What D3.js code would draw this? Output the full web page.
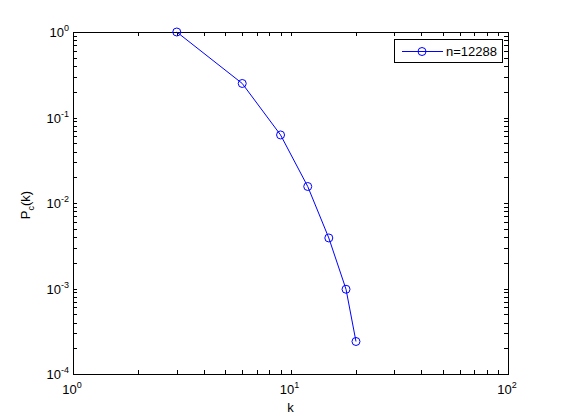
<!DOCTYPE html>
<html>
<head>
<meta charset="utf-8">
<script src="https://cdn.jsdelivr.net/npm/d3@7"></script>
<style>
  body { margin: 0; background: #fff; }
  svg { display: block; font-family: "Liberation Sans", Arial, sans-serif; }
</style>
</head>
<body>
<div id="chart"></div>
<script>
// data
var kValues = [3, 6, 9, 12, 15, 18, 20];
var pcValues = [1, 0.25, 0.0625, 0.0156, 0.0039, 0.00098, 0.00024];
var seriesName = "n=12288";
var xDecades = [0, 1, 2];
var yDecades = [0, -1, -2, -3, -4];

var width = 561,
    height = 420;
var plotLeft = 73, plotRight = 508, plotTop = 32, plotBottom = 374;

var svg = d3.select("#chart").append("svg")
    .attr("width", width)
    .attr("height", height);

var x = d3.scaleLog().domain([1, 100]).range([plotLeft, plotRight]);
var y = d3.scaleLog().domain([1e-4, 1]).range([plotBottom, plotTop]);

// minor + major tick positions
var xTicks = [];
for (var d = 0; d < 2; d++) for (var m = 1; m < 10; m++) xTicks.push(m * Math.pow(10, d));
xTicks.push(100);
var yTicks = [];
for (var d = -4; d < 0; d++) for (var m = 1; m < 10; m++) yTicks.push(m * Math.pow(10, d));
yTicks.push(1);

var tl = 4;
var axes = svg.append("g").attr("stroke", "#000").attr("stroke-width", 1);

function px(v) { return Math.round(v) + 0.5; }

axes.selectAll(".xb").data(xTicks).enter().append("line")
    .attr("x1", function(d) { return px(x(d)); })
    .attr("x2", function(d) { return px(x(d)); })
    .attr("y1", plotBottom).attr("y2", plotBottom - tl);
axes.selectAll(".xt").data(xTicks).enter().append("line")
    .attr("x1", function(d) { return px(x(d)); })
    .attr("x2", function(d) { return px(x(d)); })
    .attr("y1", plotTop).attr("y2", plotTop + tl);
axes.selectAll(".yl").data(yTicks).enter().append("line")
    .attr("y1", function(d) { return px(y(d)); })
    .attr("y2", function(d) { return px(y(d)); })
    .attr("x1", plotLeft).attr("x2", plotLeft + tl);
axes.selectAll(".yr").data(yTicks).enter().append("line")
    .attr("y1", function(d) { return px(y(d)); })
    .attr("y2", function(d) { return px(y(d)); })
    .attr("x1", plotRight).attr("x2", plotRight - tl);

axes.append("rect")
    .attr("x", plotLeft + 0.5).attr("y", plotTop + 0.5)
    .attr("width", plotRight - plotLeft).attr("height", plotBottom - plotTop)
    .attr("fill", "none");

// tick labels: 10 with superscript exponent
svg.selectAll(".xlab").data(xDecades).enter().append("text")
    .attr("x", function(d) { return x(Math.pow(10, d)) - 1; })
    .attr("y", 394)
    .attr("text-anchor", "middle")
    .attr("font-size", 13)
    .each(function(d) {
        var t = d3.select(this);
        t.append("tspan").text("10");
        t.append("tspan").attr("font-size", 9).attr("dy", -6).text(d);
    });

svg.selectAll(".ylab").data(yDecades).enter().append("text")
    .attr("x", 69)
    .attr("y", function(d) { return y(Math.pow(10, d)) + 5; })
    .attr("text-anchor", "end")
    .attr("font-size", 13)
    .each(function(d) {
        var t = d3.select(this);
        t.append("tspan").text("10");
        t.append("tspan").attr("font-size", 9).attr("dy", -6).text(d);
    });

// axis titles
svg.append("text")
    .attr("x", (plotLeft + plotRight) / 2)
    .attr("y", 412)
    .attr("text-anchor", "middle")
    .attr("font-size", 13)
    .text("k");

var yt = svg.append("text")
    .attr("transform", "translate(30,205) rotate(-90)")
    .attr("text-anchor", "middle")
    .attr("font-size", 13);
yt.append("tspan").text("P");
yt.append("tspan").attr("font-size", 9).attr("dy", 4).text("c");
yt.append("tspan").attr("dy", -4).text("(k)");

// series
var pts = kValues.map(function(k, i) { return [k, pcValues[i]]; });
var line = d3.line()
    .x(function(d) { return x(d[0]); })
    .y(function(d) { return y(d[1]); });

svg.append("path")
    .datum(pts)
    .attr("d", line)
    .attr("fill", "none")
    .attr("stroke", "#0000ff")
    .attr("stroke-width", 1);

svg.selectAll(".pt").data(pts).enter().append("circle")
    .attr("cx", function(d) { return x(d[0]); })
    .attr("cy", function(d) { return y(d[1]); })
    .attr("r", 4)
    .attr("fill", "none")
    .attr("stroke", "#0000ff")
    .attr("stroke-width", 1);

// legend
var lg = svg.append("g");
lg.append("rect")
    .attr("x", 394.5).attr("y", 39.5)
    .attr("width", 108).attr("height", 23)
    .attr("fill", "#fff").attr("stroke", "#000");
lg.append("line")
    .attr("x1", 402).attr("x2", 443)
    .attr("y1", 51.5).attr("y2", 51.5)
    .attr("stroke", "#0000ff");
lg.append("circle")
    .attr("cx", 422).attr("cy", 51.5).attr("r", 4)
    .attr("fill", "none").attr("stroke", "#0000ff");
lg.append("text")
    .attr("x", 446).attr("y", 56)
    .attr("font-size", 13)
    .text(seriesName);
</script>
</body>
</html>
